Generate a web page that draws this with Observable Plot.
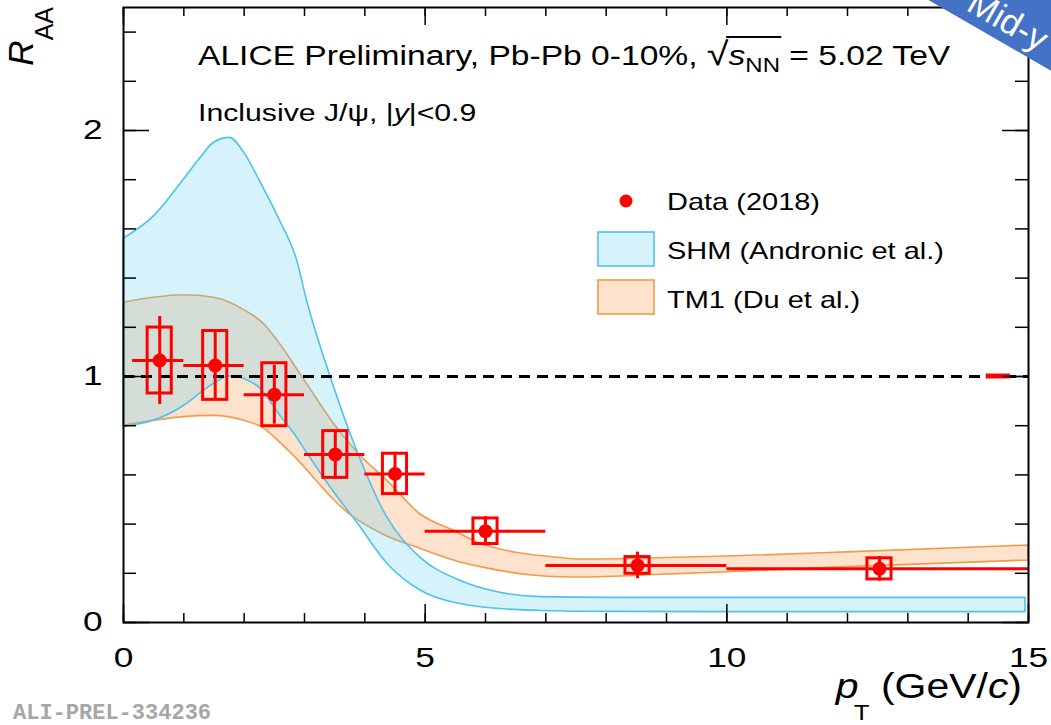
<!DOCTYPE html>
<html><head><meta charset="utf-8">
<script src="https://cdn.jsdelivr.net/npm/d3@7"></script>
<script src="https://cdn.jsdelivr.net/npm/@observablehq/plot@0.6"></script>
<style>
body{margin:0;background:#fff;}
#wrap{position:relative;width:1051px;height:725px;overflow:hidden;background:#fff;}
#banner{position:absolute;width:300px;height:80px;left:873.8px;top:-31.2px;transform:rotate(30deg);
  background:#4472c4;color:#fff;font-family:"Liberation Sans",Arial,sans-serif;font-size:35px;
  display:flex;align-items:flex-end;justify-content:center;}
#banner span{line-height:44px;padding-right:16px;}
</style></head><body><div id="wrap"></div>
<script>
// ---- Data ----
const binLow  = [0.15, 1, 2, 3, 4, 5, 7, 10];
const binHigh = [1, 2, 3, 4, 5, 7, 10, 15];
const ptMean  = [0.6, 1.52, 2.5, 3.51, 4.5, 6.0, 8.52, 12.53];
const raa     = [1.065, 1.045, 0.926, 0.683, 0.604, 0.371, 0.232, 0.218];
const statErr = [0.179, 0.137, 0.12, 0.10, 0.088, 0.059, 0.054, 0.05];
const systErr = [0.134, 0.14, 0.128, 0.095, 0.082, 0.052, 0.034, 0.043];
const globalX = [14.3, 14.7];
const globalErr = 0.01;

const shmX    = [0, 0.5, 1, 1.27, 1.5, 1.76, 2, 2.27, 2.6, 2.88, 3.04, 3.43, 3.89, 4.37, 4.92, 5.58, 6.0, 6.92, 8, 10, 12, 14.95];
const shmHigh = [1.56, 1.65, 1.8, 1.886, 1.95, 1.97, 1.91, 1.79, 1.63, 1.47, 1.31, 1.0, 0.687, 0.428, 0.264, 0.17, 0.135, 0.103, 0.1, 0.1, 0.1, 0.1];
const shmLow  = [0.795, 0.82, 0.88, 0.93, 0.97, 1.0, 0.99, 0.95, 0.84, 0.75, 0.69, 0.55, 0.4, 0.24, 0.13, 0.075, 0.06, 0.047, 0.043, 0.042, 0.042, 0.042];

const tm1X    = [0, 0.5, 1, 1.5, 2, 2.32, 2.6, 2.93, 3.04, 3.48, 3.81, 3.92, 4.37, 4.92, 5.5, 5.92, 7.25, 7.58, 9, 10, 12, 15];
const tm1High = [1.30, 1.32, 1.33, 1.32, 1.27, 1.215, 1.13, 1.01, 0.97, 0.81, 0.71, 0.68, 0.577, 0.44, 0.37, 0.32, 0.262, 0.256, 0.262, 0.268, 0.285, 0.313];
const tm1Low  = [0.80, 0.82, 0.835, 0.84, 0.82, 0.79, 0.73, 0.65, 0.62, 0.50, 0.428, 0.41, 0.35, 0.30, 0.25, 0.225, 0.184, 0.183, 0.195, 0.204, 0.225, 0.252];

const xTicksMinor = d3.range(0, 16, 1);
const xTicksMajor = [0, 5, 10, 15];
const yTicksMinor = d3.range(0, 13).map(i => +(i * 0.2).toFixed(1));
const yTicksMajor = [0, 1, 2];

// ---- Tables ----
const points = ptMean.map((x, i) => ({x, lo: binLow[i], hi: binHigh[i], y: raa[i], stat: statErr[i], syst: systErr[i]}));
const shm = shmX.map((x, i) => ({x, lo: shmLow[i], hi: shmHigh[i]}));
const tm1 = tm1X.map((x, i) => ({x, lo: tm1Low[i], hi: tm1High[i]}));

const W = 1051, H = 725, mL = 123, mR = 23, mT = 7, mB = 103;
const plotW = W - mL - mR, plotH = H - mT - mB;
const FONT = "Liberation Sans, Arial, Helvetica, sans-serif";
const blueFill = "#5bcbef", blueStroke = "#4cc2ee";
const orangeFill = "#f7a35c", orangeStroke = "#f29b48";
const boxHalf = 0.2;
const STRETCH = 1.26; // glyphs in the reference are horizontally wide

const svg = Plot.plot({
  width: W, height: H,
  marginLeft: mL, marginRight: mR, marginTop: mT, marginBottom: mB,
  style: {fontFamily: FONT, background: "#fff", color: "#000"},
  x: {domain: [0, 15], axis: null},
  y: {domain: [0, 2.5], axis: null},
  marks: [
    Plot.areaY(tm1, {x: "x", y1: "lo", y2: "hi", fill: orangeFill, fillOpacity: 0.3, stroke: orangeStroke, strokeWidth: 1.6, curve: "monotone-x"}),
    Plot.areaY(shm, {x: "x", y1: "lo", y2: "hi", fill: blueFill, fillOpacity: 0.25, stroke: blueStroke, strokeWidth: 1.6, curve: "monotone-x"}),
    Plot.ruleY([1], {stroke: "black", strokeWidth: 3, strokeDasharray: "11,7"}),
    Plot.ruleY(points, {y: "y", x1: "lo", x2: "hi", stroke: "#ff0000", strokeWidth: 3}),
    Plot.ruleX(points, {x: "x", y1: d => d.y - d.stat, y2: d => d.y + d.stat, stroke: "#ff0000", strokeWidth: 3}),
    Plot.rect(points, {x1: d => d.x - boxHalf, x2: d => d.x + boxHalf, y1: d => d.y - d.syst, y2: d => d.y + d.syst, fill: "none", stroke: "#ff0000", strokeWidth: 3}),
    Plot.dot(points, {x: "x", y: "y", r: 7, fill: "#ff0000", stroke: "none"}),
    Plot.rect([globalX], {x1: d => d[0], x2: d => d[1], y1: 1 - globalErr, y2: 1 + globalErr, fill: "#ff0000"}),
    // frame & ticks (inward, on all four sides)
    Plot.frame({stroke: "black", strokeWidth: 2}),
    Plot.ruleX(xTicksMinor, {insetTop: plotH - 9, stroke: "black", strokeWidth: 1.5}),
    Plot.ruleX(xTicksMajor, {insetTop: plotH - 18, stroke: "black", strokeWidth: 1.5}),
    Plot.ruleX(xTicksMinor, {insetBottom: plotH - 9, stroke: "black", strokeWidth: 1.5}),
    Plot.ruleX(xTicksMajor, {insetBottom: plotH - 18, stroke: "black", strokeWidth: 1.5}),
    Plot.ruleY(yTicksMinor, {insetRight: plotW - 13, stroke: "black", strokeWidth: 1.5}),
    Plot.ruleY(yTicksMajor, {insetRight: plotW - 26, stroke: "black", strokeWidth: 1.5}),
    Plot.ruleY(yTicksMinor, {insetLeft: plotW - 13, stroke: "black", strokeWidth: 1.5}),
    Plot.ruleY(yTicksMajor, {insetLeft: plotW - 26, stroke: "black", strokeWidth: 1.5}),
    // tick labels
    Plot.text(xTicksMajor, {x: d => d, y: 0, text: d => String(d), lineAnchor: "bottom", dy: 44, fontSize: 28, fill: "black", className: "ticklab"}),
    Plot.text(yTicksMajor, {x: 0, y: d => d, text: d => String(d), textAnchor: "end", dx: -21, fontSize: 28, fill: "black", className: "ticklab"})
  ]
});

document.getElementById("wrap").appendChild(svg);
const s = d3.select(svg);
// widen tick-label glyphs like the reference
s.selectAll(".ticklab text").each(function() {
  const t = d3.select(this), tr = t.attr("transform");
  if (tr && tr.includes("translate")) t.attr("transform", tr + ` scale(${STRETCH},1)`);
});

const ann = s.append("g").attr("text-anchor", "start").attr("font-family", FONT).attr("fill", "black");
const place = (x, y, sx) => ann.append("g").attr("transform", `translate(${x},${y}) scale(${sx},1)`);

// Title with sqrt(s_NN)
const g1 = place(198, 65, 1.2);
const t1 = g1.append("text").attr("font-size", 28);
t1.append("tspan").text("ALICE Preliminary, Pb-Pb 0-10%, ");
const rad = t1.append("tspan").attr("font-size", 33).text("√");
t1.append("tspan").attr("font-style", "italic").text("s");
const nn = t1.append("tspan").attr("font-size", 20).attr("dy", 7).text("NN");
t1.append("tspan").attr("dy", -7).text(" = 5.02 TeV");
{
  const a = rad.node().getBBox(), b = nn.node().getBBox();
  g1.append("line").attr("x1", a.x + a.width - 2).attr("x2", b.x + b.width + 1)
    .attr("y1", -28).attr("y2", -28).attr("stroke", "black").attr("stroke-width", 2);
}

// Subtitle
const t2 = place(198, 121, STRETCH).append("text").attr("font-size", 24);
t2.append("tspan").text("Inclusive J/ψ, |");
t2.append("tspan").attr("font-style", "italic").text("y");
t2.append("tspan").text("|<0.9");

// Legend
ann.append("circle").attr("cx", 626).attr("cy", 201).attr("r", 6.5).attr("fill", "#ff0000");
place(667, 210, STRETCH).append("text").attr("font-size", 23).text("Data (2018)");
ann.append("rect").attr("x", 598).attr("y", 232).attr("width", 56).attr("height", 34)
  .attr("fill", blueFill).attr("fill-opacity", 0.25).attr("stroke", blueStroke).attr("stroke-width", 1.6);
place(667, 259, STRETCH).append("text").attr("font-size", 23).text("SHM (Andronic et al.)");
ann.append("rect").attr("x", 598).attr("y", 280).attr("width", 56).attr("height", 34)
  .attr("fill", orangeFill).attr("fill-opacity", 0.3).attr("stroke", orangeStroke).attr("stroke-width", 1.6);
place(667, 308, STRETCH).append("text").attr("font-size", 23).text("TM1 (Du et al.)");

// X axis title
const xl = place(1022, 698, 1.17).append("text").attr("text-anchor", "end").attr("font-size", 35);
xl.append("tspan").attr("font-style", "italic").text("p");
xl.append("tspan").attr("font-size", 22).attr("dy", 22).attr("dx", -4).text("T");
xl.append("tspan").attr("dy", -22).text(" (GeV/");
xl.append("tspan").attr("font-style", "italic").text("c");
xl.append("tspan").text(")");

// Y axis title
const yl = ann.append("text").attr("transform", "translate(33,7) rotate(-90)").attr("text-anchor", "end").attr("font-size", 35);
yl.append("tspan").attr("font-style", "italic").text("R");
yl.append("tspan").attr("font-size", 25).attr("dy", 20).text("AA");

// Preliminary id
ann.append("text").attr("x", 13).attr("y", 719).attr("font-family", "Liberation Mono, DejaVu Sans Mono, monospace")
  .attr("font-weight", "bold").attr("font-size", 22).attr("fill", "#a6a6a6").text("ALI-PREL-334236");

// Corner banner
const banner = document.createElement("div");
banner.id = "banner";
banner.innerHTML = "<span>Mid-y</span>";
document.getElementById("wrap").appendChild(banner);
</script>
</body></html>
